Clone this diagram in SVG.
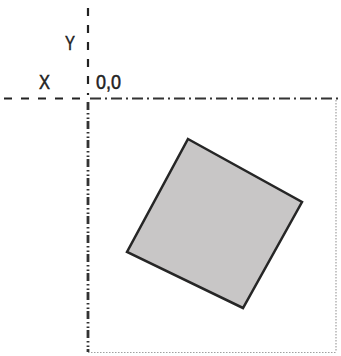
<svg xmlns="http://www.w3.org/2000/svg" width="341" height="356" viewBox="0 0 341 356">
<style>
.lbl{font-family:"Liberation Sans","DejaVu Sans",sans-serif;font-size:21px;fill:#222;stroke:#222;stroke-width:0.5}
.axdash{stroke:#222;stroke-width:2.2;fill:none;stroke-dasharray:8,9}
.axdot{stroke:#333;stroke-width:2.2;fill:none;stroke-dasharray:11,4,2,4}
.vdot{stroke:#333;stroke-width:2.8;fill:none;stroke-dasharray:8,3,1.5,3,1.5,2}
.border{stroke:#a0a0a0;stroke-width:1.2;fill:none;stroke-dasharray:1.5,1.5}
.shape{fill:#c8c6c6;stroke:#262626;stroke-width:2.5;stroke-linejoin:miter}
</style>
<rect width="341" height="356" fill="#fff"/>
<g id="axes">
<line class="axdash" x1="4" y1="98.5" x2="84" y2="98.5"/>
<line class="axdot" x1="90" y1="98.5" x2="341" y2="98.5"/>
<line class="axdash" x1="88" y1="8" x2="88" y2="95"/>
<line class="vdot" x1="88" y1="102" x2="88" y2="352"/>
<line class="border" x1="336" y1="100" x2="336" y2="352"/>
<line class="border" x1="88" y1="352.5" x2="336" y2="352.5"/>
</g>
<g id="labels">
<text class="lbl" x="65" y="50" textLength="10" lengthAdjust="spacingAndGlyphs">Y</text>
<text class="lbl" x="39" y="89" textLength="11" lengthAdjust="spacingAndGlyphs">X</text>
<text class="lbl" x="96" y="89" textLength="25" lengthAdjust="spacingAndGlyphs">0,0</text>
</g>
<g id="square">
<polygon class="shape" points="188,139 302,202 243,308 127,252"/>
</g>
</svg>
